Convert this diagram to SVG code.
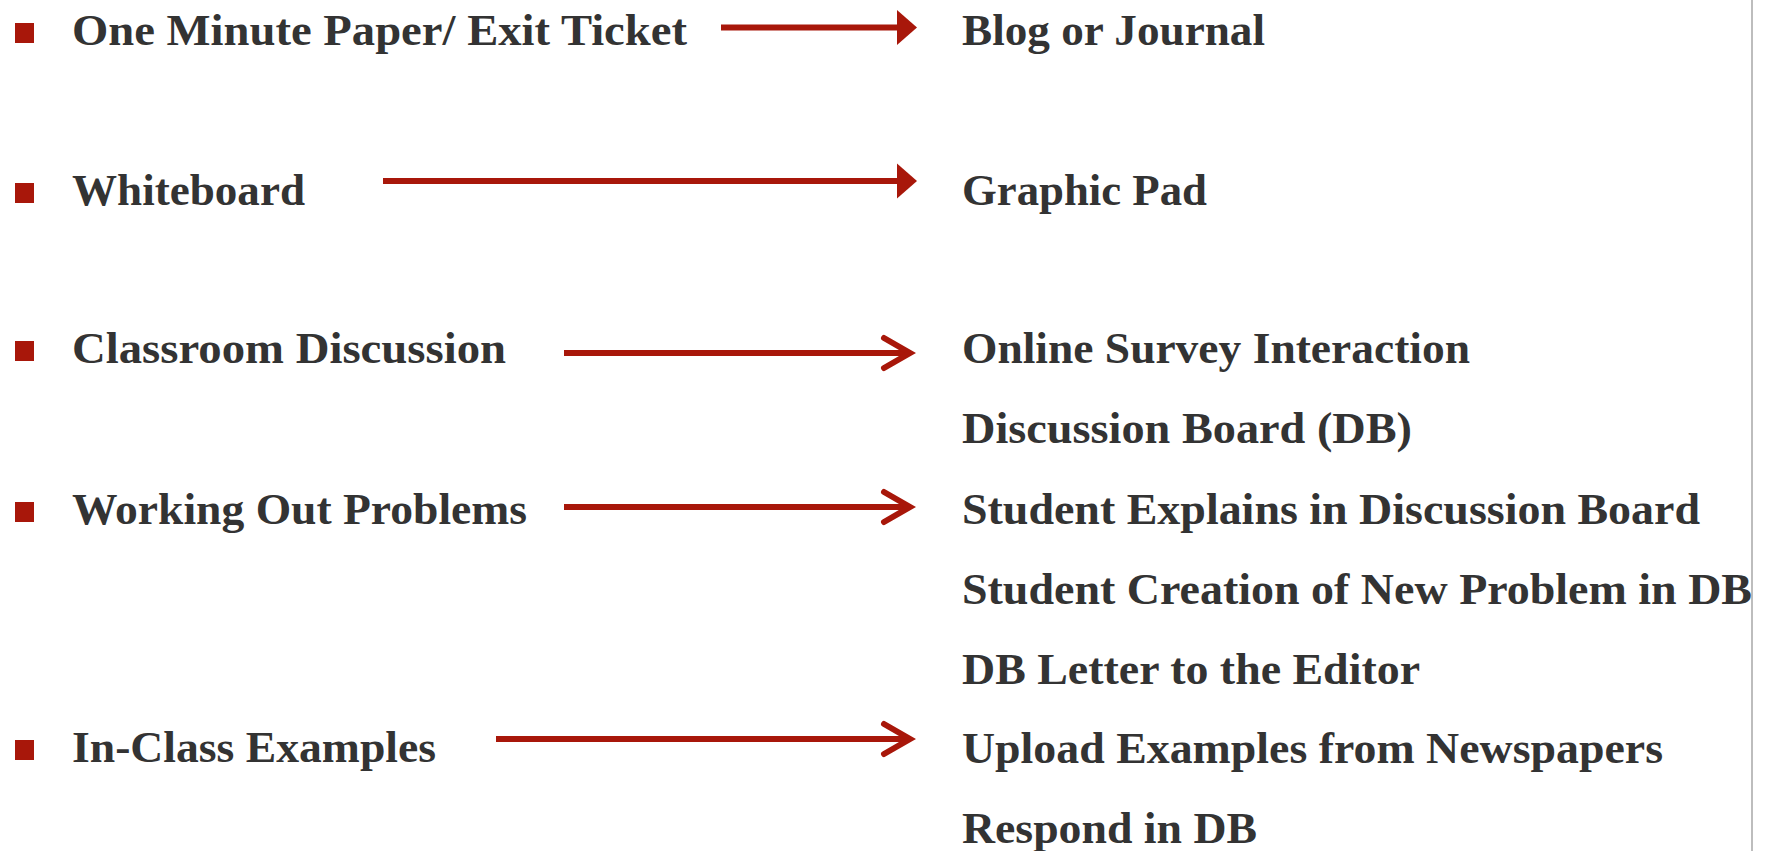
<svg xmlns="http://www.w3.org/2000/svg" width="1775" height="851" viewBox="0 0 1775 851">
<style>
  .t { font-family: "Liberation Serif", "Times New Roman", serif; font-weight: bold; font-size: 45px; fill: #333333; }
  .b { fill: #A8170A; }
  .c { stroke: #A8170A; stroke-width: 6; fill: none; }
</style>
<defs>
  <marker id="tri" markerUnits="userSpaceOnUse" viewBox="0 -20 24 40" refX="0" refY="0" markerWidth="24" markerHeight="40" orient="auto" overflow="visible">
    <path d="M0,-17.5 L20,0 L0,17.5 Z" fill="#A8170A"/>
  </marker>
  <marker id="chev" markerUnits="userSpaceOnUse" viewBox="-32 -20 40 40" refX="0" refY="0" markerWidth="40" markerHeight="40" orient="auto" overflow="visible">
    <path d="M-26,-15 L0,0 L-26,15" fill="none" stroke="#A8170A" stroke-width="6" stroke-linecap="round"/>
  </marker>
</defs>
<rect width="1775" height="851" fill="#ffffff"/>
<line x1="1752" y1="0" x2="1752" y2="851" stroke="#bdbdbd" stroke-width="2"/>

<g id="left-one-minute"><rect class="b" x="15" y="23" width="19" height="20"/><text class="t" x="72" y="45" textLength="615" lengthAdjust="spacingAndGlyphs">One Minute Paper/ Exit Ticket</text></g>
<g id="left-whiteboard"><rect class="b" x="15" y="183" width="19" height="20"/><text class="t" x="72" y="205" textLength="233" lengthAdjust="spacingAndGlyphs">Whiteboard</text></g>
<g id="left-classroom"><rect class="b" x="15" y="341" width="19" height="20"/><text class="t" x="72" y="363" textLength="434" lengthAdjust="spacingAndGlyphs">Classroom Discussion</text></g>
<g id="left-working"><rect class="b" x="15" y="502" width="19" height="20"/><text class="t" x="72" y="524" textLength="455" lengthAdjust="spacingAndGlyphs">Working Out Problems</text></g>
<g id="left-inclass"><rect class="b" x="15" y="740" width="19" height="20"/><text class="t" x="72" y="762" textLength="364" lengthAdjust="spacingAndGlyphs">In-Class Examples</text></g>

<g id="right-blog"><text class="t" x="962" y="45" textLength="303" lengthAdjust="spacingAndGlyphs">Blog or Journal</text></g>
<g id="right-graphic"><text class="t" x="962" y="205" textLength="245" lengthAdjust="spacingAndGlyphs">Graphic Pad</text></g>
<g id="right-online"><text class="t" x="962" y="363" textLength="508" lengthAdjust="spacingAndGlyphs">Online Survey Interaction</text><text class="t" x="962" y="443" textLength="450" lengthAdjust="spacingAndGlyphs">Discussion Board (DB)</text></g>
<g id="right-student"><text class="t" x="962" y="524" textLength="738" lengthAdjust="spacingAndGlyphs">Student Explains in Discussion Board</text><text class="t" x="962" y="604" textLength="790" lengthAdjust="spacingAndGlyphs">Student Creation of New Problem in DB</text><text class="t" x="962" y="684" textLength="458" lengthAdjust="spacingAndGlyphs">DB Letter to the Editor</text></g>
<g id="right-upload"><text class="t" x="962" y="763" textLength="701" lengthAdjust="spacingAndGlyphs">Upload Examples from Newspapers</text><text class="t" x="962" y="843" textLength="295" lengthAdjust="spacingAndGlyphs">Respond in DB</text></g>

<g id="connectors">
  <line class="c" x1="721" y1="27.5" x2="897" y2="27.5" marker-end="url(#tri)"/>
  <line class="c" x1="383" y1="181" x2="897" y2="181" marker-end="url(#tri)"/>
  <line class="c" x1="564" y1="353" x2="910" y2="353" marker-end="url(#chev)"/>
  <line class="c" x1="564" y1="507" x2="910" y2="507" marker-end="url(#chev)"/>
  <line class="c" x1="496" y1="739" x2="910" y2="739" marker-end="url(#chev)"/>
</g>
</svg>
